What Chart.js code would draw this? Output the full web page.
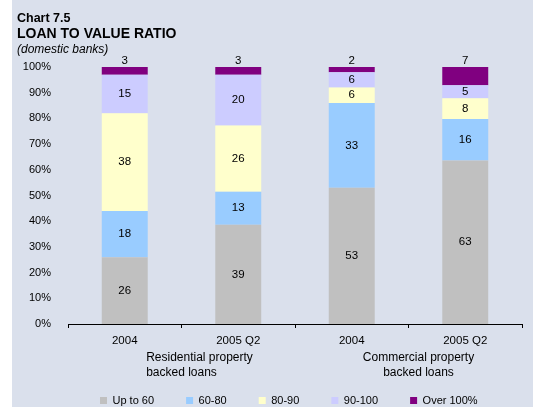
<!DOCTYPE html>
<html>
<head>
<meta charset="utf-8">
<title>Loan to value ratio</title>
<script src="https://cdn.jsdelivr.net/npm/chart.js@4.4.1/dist/chart.umd.min.js"></script>
<style>
  html, body { margin: 0; padding: 0; background: #fff; }
  canvas { display: block; }
</style>
</head>
<body>
<canvas id="ltvChart" width="533" height="410"></canvas>
<script>
// categories and groups
const categories = ['2004', '2005 Q2', '2004', '2005 Q2'];
const groupLabels = [['Residential property', 'backed loans'], ['Commercial property', 'backed loans']];
const bandNames = ['Up to 60', '60-80', '80-90', '90-100', 'Over 100%'];

// shares (%)
const upTo60 = [26, 39, 53, 63];
const from60to80 = [18, 13, 33, 16];
const from80to90 = [38, 26, 6, 8];
const from90to100 = [15, 20, 6, 5];
const over100 = [3, 3, 2, 7];

const yTickStep = 10;
const titleLines = ['Chart 7.5', 'LOAN TO VALUE RATIO', '(domestic banks)'];

const FONT = '"Liberation Sans", Arial, Helvetica, sans-serif';
const colours = ['#C0C0C0', '#99CCFF', '#FFFFCC', '#CCCCFF', '#800080'];
const series = [upTo60, from60to80, from80to90, from90to100, over100];

// 100% stacked: each bar is scaled to its own total
const totals = categories.map((c, j) => series.reduce((s, arr) => s + arr[j], 0));

const datasets = series.map((vals, i) => ({
  label: bandNames[i],
  data: vals.map((v, j) => v / totals[j] * 100),
  shown: vals,
  backgroundColor: colours[i],
  borderWidth: 0,
  categoryPercentage: 0.405,
  barPercentage: 1
}));

const paper = {
  id: 'paper',
  beforeDraw(chart) {
    const c = chart.ctx;
    c.save();
    c.fillStyle = '#ffffff';
    c.fillRect(0, 0, chart.width, chart.height);
    c.fillStyle = '#DAE0EC';
    c.fillRect(12, 0, chart.width - 12, 407);
    c.restore();
  }
};

const heading = {
  id: 'heading',
  afterDraw(chart) {
    const c = chart.ctx;
    c.save();
    c.fillStyle = '#000';
    c.textAlign = 'left';
    c.textBaseline = 'alphabetic';
    c.font = 'bold 12.5px ' + FONT;
    c.fillText(titleLines[0], 17, 22);
    c.font = 'bold 14px ' + FONT;
    c.fillText(titleLines[1], 17, 38);
    c.font = 'italic 12px ' + FONT;
    c.fillText(titleLines[2], 17, 53);
    c.restore();
  }
};

// numbers in / above the segments
const segmentLabels = {
  id: 'segmentLabels',
  afterDatasetsDraw(chart) {
    const c = chart.ctx;
    const last = chart.data.datasets.length - 1;
    c.save();
    c.font = '11.5px ' + FONT;
    c.fillStyle = '#000';
    c.textAlign = 'center';
    c.textBaseline = 'middle';
    chart.data.datasets.forEach((ds, i) => {
      chart.getDatasetMeta(i).data.forEach((bar, j) => {
        const p = bar.getProps(['x', 'y', 'base'], true);
        const txt = String(ds.shown[j]);
        if (i === last) {
          c.fillText(txt, p.x, p.y - 6);
        } else {
          c.fillText(txt, p.x, (p.y + p.base) / 2);
        }
      });
    });
    c.restore();
  }
};

// group captions under the category labels
const groupCaptions = {
  id: 'groupCaptions',
  afterDraw(chart) {
    const x = chart.scales.x;
    const c = chart.ctx;
    c.save();
    c.font = '12px ' + FONT;
    c.fillStyle = '#000';
    c.textAlign = 'center';
    c.textBaseline = 'middle';
    const offsets = [[18, 0], [10, 10]];
    groupLabels.forEach((lines, g) => {
      const mid = (x.getPixelForValue(g * 2) + x.getPixelForValue(g * 2 + 1)) / 2;
      lines.forEach((t, k) => {
        c.fillText(t, mid + offsets[g][k], 358 + k * 14.5);
      });
    });
    c.restore();
  }
};

new Chart(document.getElementById('ltvChart').getContext('2d'), {
  type: 'bar',
  data: {
    labels: categories,
    datasets: datasets
  },
  options: {
    responsive: false,
    animation: false,
    layout: {
      padding: { top: 67, left: 0, right: 11, bottom: -6 }
    },
    scales: {
      x: {
        stacked: true,
        afterFit(scale) { scale.height = 39; },
        grid: {
          display: true,
          drawOnChartArea: false,
          drawTicks: true,
          tickLength: 4,
          color: '#000',
          offset: true
        },
        border: { display: true, color: '#000', width: 1 },
        ticks: {
          color: '#000',
          padding: 6,
          font: { family: FONT, size: 11.5 }
        }
      },
      y: {
        stacked: true,
        min: 0,
        max: 100,
        afterFit(scale) { scale.width = 68; },
        grid: { display: false },
        border: { display: false },
        ticks: {
          stepSize: yTickStep,
          padding: 9,
          color: '#000',
          font: { family: FONT, size: 11 },
          callback: function(value) {
            return value + '%';
          }
        }
      }
    },
    plugins: {
      legend: {
        position: 'bottom',
        align: 'start',
        fullSize: false,
        labels: {
          boxWidth: 7,
          boxHeight: 7,
          padding: 32,
          color: '#000',
          font: { family: FONT, size: 11 }
        }
      },
      title: { display: false },
      tooltip: { enabled: false }
    }
  },
  plugins: [paper, heading, segmentLabels, groupCaptions]
});
</script>
</body>
</html>
